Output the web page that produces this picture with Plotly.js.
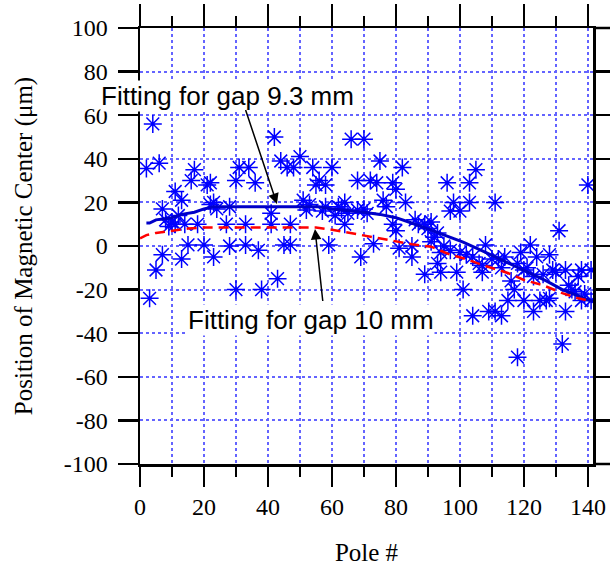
<!DOCTYPE html>
<html>
<head>
<meta charset="utf-8">
<script src="https://cdn.plot.ly/plotly-3.0.1.min.js"></script>
<style>html,body{margin:0;padding:0;background:#fff;}#chart{width:610px;height:566px;}</style>
</head>
<body>
<div id="chart"></div>
<script>
// Measured magnetic centre per pole (µm)
const poles = [2,3,4,5,6,7,7,8,9,10,11,11,12,13,13,14,15,16,17,18,20,21,22,22,23,23,24,27,28,28,30,30,31,33,33,34,36,37,38,41,41,42,43,44,45,46,47,47,48,50,51,52,53,54,55,56,57,58,58,59,60,61,62,63,64,64,65,66,68,68,69,70,70,71,72,73,74,75,76,77,79,79,80,80,81,82,83,85,85,86,87,89,89,90,91,91,92,93,93,94,94,95,96,97,97,98,99,100,100,101,102,103,103,104,104,105,106,107,107,108,109,110,111,111,112,113,113,114,115,116,117,118,118,119,120,120,121,122,123,123,124,125,126,127,128,128,129,130,131,132,133,133,134,135,136,137,138,138,139,140,141,141];
const centers = [35.6,-24,56,-11,38,17,-4,12,9,11,25,10,14,21,-6,10,0.5,30,35,10,0.5,28,29,19,20,-5,17,10,18,0,30,-20,36,10,0.5,36,29,-2,-20,15,10,50,-15,39,0.5,36,10,0.5,36,41,21,16.5,19,36,28,30,16,28,18,0.5,36,14,18,17,20,10,15,49,16.5,30,-5,49,17,15,30,1,29,39,21,18,10,29,26,7,-1,36,20,-5,0,12,10,-13,10,8,11,2,4,6,-8,-3,-12,0,29,16,-2,20,-12,16,-3,-20,-4,29,20,-32,-5,35,-8,-12,-9,0.5,-30,-6,20,-30,-6,-32,-10,-5,-25,-16,-20,-51,-8,-3,-25,-11,-10,0.5,-30,-14,-5,-25,-13,-25,-4,-24,-11,-12,7,-45,-11,-30,-18,-20,-21,-14,-25,-11,-22,28,-11,-25];

// Fitting curves
const fit93X = [2,3,5,8,10,13,17,20,23,30,40,50,56,60,64,70,75,80,84,88,91,96,101,106,111,116,122,127,132,137,141.5];
const fit93Y = [10.5,10.5,12,12.5,13,14.5,15.5,17,18,18,18,18,18,17,16.5,15.5,14.5,13,11,9,7.3,4.5,1.8,-1.5,-5,-8.5,-12.4,-16,-20,-23,-25.5];
const fit10X = [0,2,5,10,15,20,30,40,50,55,60,65,70,74,79,85,91,97,102,107,115,120,126,132,137,140];
const fit10Y = [3.5,5,6,7,8,8.5,8.5,8.5,8.5,8.5,7.5,6.2,5,4,2.4,0.8,-0.3,-4,-6,-8.7,-12.4,-15.6,-18,-21.6,-24,-25];

// Ticks
const xTickVals = [0,20,40,60,80,100,120,140];
const xTickText = ['0','20','40','60','80','100','120','140'];
const xMinorVals = [10,30,50,70,90,110,130];
const yTickVals = [-100,-80,-60,-40,-20,0,20,40,60,80,100];
const yTickText = ['-100','-80','-60','-40','-20','0','20','40','60','80','100'];

const xRange = [0,141.6];
const yRange = [-100,100];
const gridCol = 'rgb(100,100,255)';
const serif = 'Liberation Serif';
const sans = 'Liberation Sans';

const traces = [
  {x: poles, y: centers, type:'scatter', mode:'markers', showlegend:false,
   marker:{symbol:'asterisk-open', size:15, color:'#0000ff', line:{width:1.5, color:'#0000ff'}}},
  {x: fit93X, y: fit93Y, type:'scatter', mode:'lines', showlegend:false,
   line:{color:'#0000c8', width:3}},
  {x: fit10X, y: fit10Y, type:'scatter', mode:'lines', showlegend:false,
   line:{color:'#ff0000', width:2.5, dash:'10px,6px'}},
  {x:[null], y:[null], xaxis:'x2', yaxis:'y2', type:'scatter', mode:'markers', showlegend:false, hoverinfo:'skip'}
];

const layout = {
  width:610, height:566,
  font:{family:serif, size:24, color:'#000'},
  margin:{l:140, r:17, t:28, b:102, pad:0},
  paper_bgcolor:'#fff', plot_bgcolor:'#fff',
  showlegend:false,
  xaxis:{range:xRange, tickmode:'array', tickvals:xTickVals, ticktext:xTickText,
    ticks:'outside', ticklen:20, tickwidth:2.5, tickcolor:'#000',
    showline:true, linewidth:2.5, linecolor:'#000', zeroline:false,
    showgrid:true, gridcolor:gridCol, griddash:'dot', gridwidth:2,
    tickfont:{family:serif, size:24, color:'#000'}, ticklabelstandoff:0,
    minor:{tickmode:'array', tickvals:xMinorVals, ticks:'outside', ticklen:10, tickwidth:2.5, tickcolor:'#000',
      showgrid:true, gridcolor:gridCol, griddash:'dot', gridwidth:2},
    title:{text:'Pole #', font:{family:serif, size:25, color:'#000'}, standoff:38}},
  yaxis:{range:yRange, tickmode:'array', tickvals:yTickVals, ticktext:yTickText,
    ticks:'outside', ticklen:20, tickwidth:2.5, tickcolor:'#000',
    showline:true, linewidth:2.5, linecolor:'#000', zeroline:false,
    showgrid:true, gridcolor:gridCol, griddash:'dot', gridwidth:2,
    tickfont:{family:serif, size:24, color:'#000'}, ticklabelstandoff:5,
    title:{text:'Position of Magnetic Center (μm)', font:{family:serif, size:25, color:'#000'}, standoff:24}},
  xaxis2:{overlaying:'x', side:'top', range:xRange, tickmode:'array', tickvals:xTickVals,
    ticks:'outside', ticklen:22, tickwidth:2.5, tickcolor:'#000', showticklabels:false,
    showline:true, linewidth:2.5, linecolor:'#000', showgrid:false, zeroline:false,
    minor:{tickmode:'array', tickvals:xMinorVals, ticks:'outside', ticklen:10, tickwidth:2.5, tickcolor:'#000', showgrid:false}},
  yaxis2:{overlaying:'y', side:'right', range:yRange, tickmode:'array', tickvals:yTickVals,
    ticks:'outside', ticklen:17, tickwidth:2.5, tickcolor:'#000', showticklabels:false,
    showline:true, linewidth:2.5, linecolor:'#000', showgrid:false, zeroline:false},
  shapes:[
    {type:'line', xref:'paper', yref:'paper', x0:1, x1:1+17/453, y0:1, y1:1, line:{color:'#000', width:2.5}},
    {type:'line', xref:'paper', yref:'paper', x0:1, x1:1+17/453, y0:0, y1:0, line:{color:'#000', width:2.5}}
  ],
  annotations:[
    {x:27.2, y:68.8, xref:'x', yref:'y', text:'Fitting for gap 9.3 mm', showarrow:false,
     font:{family:sans, size:26, color:'#000'}, bgcolor:'#fff', borderpad:0},
    {x:53.4, y:-34, xref:'x', yref:'y', text:'Fitting for gap 10 mm', showarrow:false,
     font:{family:sans, size:26, color:'#000'}, bgcolor:'#fff', borderpad:0},
    {x:42.8, y:19.3, xref:'x', yref:'y', text:' ', font:{size:1}, showarrow:true,
     ax:-32, ay:-96, arrowhead:2, arrowsize:1.4, arrowwidth:1.5, arrowcolor:'#000', standoff:0, startstandoff:0},
    {x:54.7, y:7.8, xref:'x', yref:'y', text:' ', font:{size:1}, showarrow:true,
     ax:8, ay:74, arrowhead:2, arrowsize:1.4, arrowwidth:1.5, arrowcolor:'#000', standoff:0, startstandoff:0}
  ]
};

Plotly.newPlot('chart', traces, layout, {displayModeBar:false, staticPlot:true});
</script>
</body>
</html>
